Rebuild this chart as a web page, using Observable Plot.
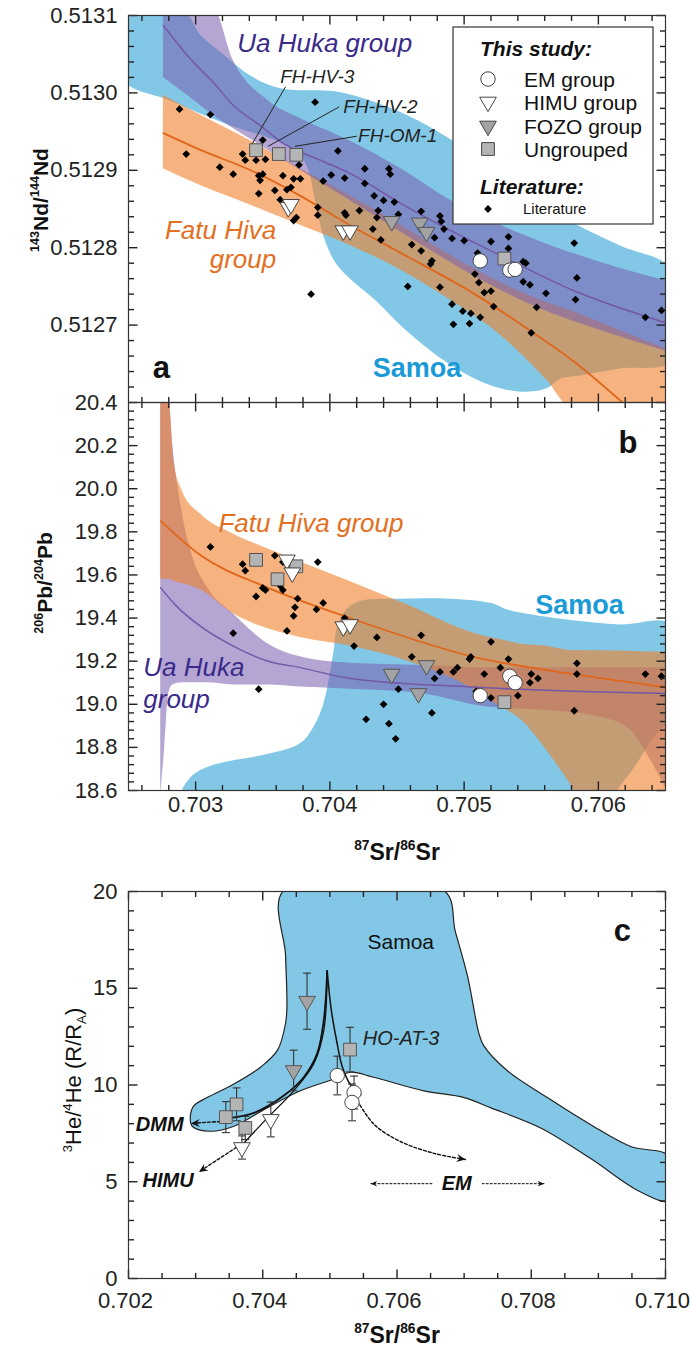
<!DOCTYPE html>
<html><head><meta charset="utf-8">
<script src="https://cdn.jsdelivr.net/npm/d3@7"></script>
<script src="https://cdn.jsdelivr.net/npm/@observablehq/plot@0.6"></script>
<style>
body{margin:0;background:#fff;}
#wrap{position:relative;width:690px;height:1352px;overflow:hidden;}
#wrap svg{position:absolute;left:0;overflow:visible;}
</style></head><body><div id="wrap"></div>
<script>
// ---------------- DATA ----------------
// Panel a: literature 87Sr/86Sr vs 143Nd/144Nd
const litA_sr = [0.70288,0.70311,0.70293,0.70318,0.70328,0.70335,0.70337,0.70345,0.70352,0.70350,0.70347,0.70350,0.70348,0.70347,0.70359,0.70365,0.70368,0.70371,0.70363,0.70373,0.70378,0.70377,0.70373,0.70375,0.70391,0.70391,0.70386,0.70389,0.70395,0.70401,0.70406,0.70411,0.70411,0.70426,0.70444,0.70445,0.70426,0.70433,0.70440,0.70448,0.70436,0.70435,0.70451,0.70422,0.70412,0.70432,0.70438,0.70468,0.70482,0.70483,0.70485,0.70478,0.70461,0.70468,0.70476,0.70475,0.70491,0.70500,0.70520,0.70533,0.70533,0.70510,0.70508,0.70511,0.70515,0.70520,0.70522,0.70482,0.70458,0.70491,0.70499,0.70505,0.70512,0.70504,0.70492,0.70544,0.70546,0.70544,0.70549,0.70561,0.70554,0.70550,0.70582,0.70584,0.70583,0.70635,0.70647];
const litA_nd = [0.512979,0.512972,0.512921,0.512904,0.512895,0.512921,0.512913,0.512913,0.512914,0.512939,0.512893,0.512895,0.512887,0.512870,0.512874,0.512893,0.512875,0.512878,0.512862,0.512889,0.512889,0.512907,0.512835,0.512839,0.512852,0.512842,0.512740,0.512988,0.512886,0.512894,0.512925,0.512890,0.512845,0.512902,0.512902,0.512895,0.512883,0.512867,0.512861,0.512859,0.512848,0.512839,0.512843,0.512848,0.512842,0.512824,0.512810,0.512847,0.512841,0.512834,0.512824,0.512813,0.512804,0.512796,0.512783,0.512779,0.512812,0.512809,0.512808,0.512814,0.512799,0.512793,0.512766,0.512755,0.512742,0.512744,0.512724,0.512749,0.512750,0.512727,0.512718,0.512715,0.512710,0.512702,0.512701,0.512782,0.512780,0.512756,0.512752,0.512741,0.512723,0.512690,0.512806,0.512761,0.512733,0.512710,0.512719];
// Panel a: this study
const emA_sr = [0.70512,0.70534,0.70538], emA_nd = [0.512783,0.512771,0.512772];
const himuA_sr = [0.70369,0.70371,0.70410,0.70415], himuA_nd = [0.512852,0.512856,0.512822,0.512822];
const fozoA_sr = [0.70446,0.70467,0.70472], fozoA_nd = [0.512834,0.512832,0.512820];
const ungA_sr = [0.70345,0.70362,0.70375,0.70530], ungA_nd = [0.512926,0.512921,0.512920,0.512786];
// Panel a: fields
const samoaA_sr = [0.70245,0.70289,0.70304,0.70322,0.70341,0.70363,0.70408,0.70453,0.70492,0.70527,0.70564,0.70581,0.70616,0.70655,0.70655,0.70616,0.70587,0.70572,0.70561,0.70542,0.70520,0.70497,0.70475,0.70453,0.70434,0.70415,0.70404,0.70395,0.70389,0.70384,0.70378,0.70363,0.70326,0.70281,0.70245];
const samoaA_nd = [0.51311,0.51311,0.513074,0.513048,0.513022,0.513006,0.513001,0.512975,0.512938,0.512897,0.512855,0.512833,0.512803,0.512771,0.512654,0.512644,0.512635,0.512631,0.512618,0.512614,0.512622,0.512641,0.512667,0.512699,0.512732,0.512760,0.512781,0.512816,0.512861,0.512900,0.512919,0.512936,0.512958,0.512990,0.513018];
const uaA_sr = [0.70276,0.70296,0.70313,0.70328,0.70354,0.70378,0.70415,0.70453,0.70490,0.70527,0.70564,0.70602,0.70655];
const uaA_hi = [0.51311,0.51311,0.51311,0.513042,0.512990,0.512967,0.512938,0.512902,0.512861,0.512829,0.512803,0.512781,0.512755];
const uaA_lo = [0.513020,0.512994,0.512971,0.512954,0.512926,0.512900,0.512861,0.512820,0.512781,0.512745,0.512716,0.512693,0.512664];
const uaLineA_sr = [0.70276,0.70296,0.70315,0.70328,0.70348,0.70365,0.70393,0.70415,0.70453,0.70490,0.70527,0.70581,0.70650];
const uaLineA_nd = [0.513087,0.513044,0.513010,0.512984,0.512958,0.512935,0.512913,0.512896,0.512857,0.512822,0.512790,0.512745,0.512703];
const fhA_sr = [0.70276,0.70304,0.70341,0.70378,0.70415,0.70453,0.70490,0.70527,0.70562,0.70579,0.70616,0.70655];
const fhA_hi = [0.512997,0.512971,0.512938,0.512902,0.512867,0.512829,0.512790,0.512755,0.512729,0.512719,0.512693,0.512666];
const fhA_lo = [0.512902,0.512880,0.512855,0.512829,0.512803,0.512771,0.512732,0.512687,0.512628,0.512595,0.512595,0.512595];
const fhLineA_sr = [0.70276,0.70304,0.70341,0.70378,0.70415,0.70453,0.70507,0.70549,0.70581,0.70618];
const fhLineA_nd = [0.512948,0.512926,0.512900,0.512867,0.512829,0.512793,0.512741,0.512693,0.512654,0.512600];

// Panel b: literature 87Sr/86Sr vs 206Pb/204Pb
const litB_sr = [0.70311,0.70335,0.70337,0.70359,0.70365,0.70391,0.70350,0.70352,0.70345,0.70363,0.70365,0.70376,0.70374,0.70373,0.70368,0.70390,0.70395,0.70328,0.70347,0.70411,0.70418,0.70435,0.70468,0.70461,0.70451,0.70440,0.70427,0.70444,0.70449,0.70476,0.70478,0.70482,0.70492,0.70495,0.70505,0.70504,0.70520,0.70515,0.70527,0.70533,0.70509,0.70520,0.70540,0.70550,0.70549,0.70555,0.70584,0.70584,0.70582,0.70635,0.70647];
const litB_pb = [19.73,19.65,19.62,19.69,19.66,19.66,19.54,19.53,19.50,19.55,19.53,19.49,19.45,19.41,19.34,19.44,19.47,19.33,19.07,19.40,19.27,19.31,19.32,19.22,19.07,19.00,18.93,18.91,18.84,18.96,19.12,19.15,19.15,19.17,19.22,19.21,19.29,19.14,19.17,19.21,19.06,19.03,19.04,19.14,19.10,19.12,19.19,19.14,18.97,19.14,19.13];
const emB_sr = [0.70512,0.70534,0.70538], emB_pb = [19.04,19.13,19.10];
const himuB_sr = [0.70368,0.70372,0.70410,0.70415], himuB_pb = [19.67,19.61,19.36,19.37];
const fozoB_sr = [0.70446,0.70472,0.70466], fozoB_pb = [19.14,19.18,19.05];
const ungB_sr = [0.70345,0.70361,0.70375,0.70530], ungB_pb = [19.67,19.58,19.64,19.01];
const samoaB_sr = [0.70405,0.70412,0.70423,0.70453,0.70490,0.70520,0.70532,0.70547,0.70581,0.70616,0.70655,0.70655,0.70639,0.70628,0.70616,0.70610,0.70290,0.70296,0.70309,0.70328,0.70354,0.70378,0.70389,0.70395,0.70399,0.70403];
const samoaB_pb = [19.35,19.44,19.48,19.49,19.49,19.47,19.44,19.42,19.39,19.37,19.37,18.96,18.83,18.72,18.62,18.57,18.57,18.66,18.71,18.74,18.77,18.82,18.91,19.00,19.11,19.26];
const uaB_sr = [0.70274,0.70277,0.70280,0.70283,0.70290,0.70298,0.70309,0.70328,0.70354,0.70378,0.70415,0.70468,0.70514,0.70564,0.70602,0.70624,0.70639,0.70655];
const uaB_lo = [18.58,18.80,19.05,19.09,19.10,19.10,19.10,19.09,19.09,19.08,19.07,19.05,18.99,18.97,18.94,18.88,18.74,18.55];
const uaB_hi = [20.42,20.42,20.42,20.20,19.89,19.68,19.54,19.42,19.28,19.22,19.19,19.18,19.17,19.17,19.17,19.17,19.17,19.17];
const uaLineB_sr = [0.70274,0.70285,0.70304,0.70328,0.70354,0.70378,0.70415,0.70507,0.70581,0.70650];
const uaLineB_pb = [19.54,19.46,19.36,19.27,19.20,19.17,19.12,19.08,19.06,19.05];
const fhB_sr = [0.70274,0.70280,0.70284,0.70290,0.70304,0.70328,0.70354,0.70378,0.70415,0.70458,0.70507,0.70527,0.70542,0.70561,0.70579,0.70584,0.70655];
const fhB_lo = [19.58,19.58,19.57,19.56,19.53,19.42,19.35,19.31,19.27,19.20,19.07,18.99,18.93,18.79,18.63,18.58,18.58];
const fhB_hi = [20.42,20.42,20.12,19.99,19.88,19.79,19.72,19.66,19.57,19.46,19.33,19.30,19.28,19.27,19.25,19.25,19.24];
const fhLineB_sr = [0.70274,0.70304,0.70354,0.70415,0.70507,0.70581,0.70650];
const fhLineB_pb = [19.85,19.69,19.54,19.40,19.22,19.14,19.08];

// Panel c: 87Sr/86Sr vs 3He/4He (R/RA), with 1-sigma errors
const emC_sr = [0.70511,0.70536,0.70533], emC_he = [10.49,9.61,9.10], emC_err = [1.0,0.85,0.95];
const himuC_sr = [0.70412,0.70369], himuC_he = [8.22,6.77], himuC_err = [0.9,0.6];
const fozoC_sr = [0.70466,0.70446], fozoC_he = [14.33,10.75], fozoC_err = [1.45,1.05];
const ungC_sr = [0.70345,0.70361,0.70374,0.70530], ungC_he = [8.34,9.00,7.78,11.83], ungC_err = [0.8,0.85,0.6,1.15];
const samoaC_sr = [0.70431,0.70434,0.70436,0.70434,0.70422,0.70397,0.70357,0.70317,0.70297,0.70292,0.70295,0.70322,0.70357,0.70407,0.70456,0.70506,0.70531,0.70565,0.70640,0.70700,0.70739,0.70814,0.70888,0.70963,0.71005,0.71005,0.70948,0.70888,0.70824,0.70764,0.70729,0.70722,0.70705,0.70687,0.70670];
const samoaC_he = [20.05,16.69,14.07,13.19,11.80,10.93,10.05,9.35,8.91,8.30,7.87,7.61,7.87,8.83,9.70,10.31,10.66,10.40,9.70,9.35,8.83,7.78,6.21,4.47,4.03,6.31,6.82,7.96,9.35,10.75,12.05,12.67,15.64,17.91,20.05];
const mixA_sr = [0.70352,0.70387,0.70431,0.70461,0.70481,0.70491,0.70496], mixA_he = [8.30,8.56,9.44,10.40,11.62,13.37,15.90];
const mixB_sr = [0.70496,0.70502,0.70510,0.70518,0.70531,0.70546], mixB_he = [15.90,13.90,12.30,11.00,10.00,9.50];
const mixC_sr = [0.70367,0.70407,0.70446,0.70476,0.70491,0.70496], mixC_he = [6.82,8.30,9.70,11.10,12.84,15.90];
const dmmArr_sr = [0.70352,0.70320,0.70293], dmmArr_he = [8.13,8.08,8.01];
const himuArr_sr = [0.70367,0.70305], himuArr_he = [6.92,5.51];
const emArr_sr = [0.70541,0.70566,0.70605,0.70655,0.70702], emArr_he = [9.18,7.96,7.08,6.47,6.15];
const emL_sr = [0.70652,0.70561], emR_sr = [0.70727,0.70819], emLR_he = [4.9,4.9];
const heads_sr = [0.70293,0.70305,0.70702,0.70561,0.70819], heads_he = [8.01,5.51,6.15,4.9,4.9];
const heads_angle = [177,147,10,180,0], heads_r = [5,5,5,3.6,3.6];

// tick values
const xTicksAB = [0.703,0.704,0.705,0.706];
const ndTicks = [0.5127,0.5128,0.5129,0.5130,0.5131];
const pbTicks = [18.6,18.8,19.0,19.2,19.4,19.6,19.8,20.0,20.2,20.4];
const xTicksC = [0.702,0.704,0.706,0.708,0.710];
const heTicks = [0,5,10,15,20];
const xDomAB = [0.7025, 0.7065], ndDom = [0.5126, 0.5131], pbDom = [18.6, 20.4], xDomC = [0.702, 0.710], heDom = [0, 20];

// ---------------- HELPERS ----------------
const FONT = '"Liberation Sans", Arial, Helvetica, sans-serif';
const BLUE = "#82c8e6", PURPLE = "#7a5eae", ORANGE = "#f0802a";
const LINE_P = "#7557a8", LINE_O = "#e0661a";
const pts = (xs, ys) => xs.map((x, i) => ({x, y: ys[i]}));
const band = (xs, lo, hi) => xs.map((x, i) => ({x, lo: lo[i], hi: hi[i]}));
const minor = (a, b, step, majors) => d3.range(Math.round((b - a) / step) + 1).map(i => +(a + i * step).toFixed(8))
  .filter(v => !majors.some(m => Math.abs(m - v) < step / 10));

const triDown = {draw(ctx, size) { const s = Math.sqrt(size * 4 / Math.sqrt(3)); const h = s * Math.sqrt(3) / 2;
  ctx.moveTo(-s / 2, -h / 3); ctx.lineTo(s / 2, -h / 3); ctx.lineTo(0, 2 * h / 3); ctx.closePath(); }};
const capSym = {draw(ctx, size) { const w = Math.sqrt(size) / 2; ctx.moveTo(-w, 0); ctx.lineTo(w, 0); }};
const headSym = {draw(ctx, size) { const l = Math.sqrt(size); ctx.moveTo(0, 0); ctx.lineTo(-l, -l * 0.45);
  ctx.lineTo(-l * 0.65, 0); ctx.lineTo(-l, l * 0.45); ctx.closePath(); }};
// tick glyphs: a short stroke starting at the anchor point, pointing into the frame
const tickDown = {draw(ctx, size) { const l = Math.sqrt(size); ctx.moveTo(0, 0); ctx.lineTo(0, l); }};
const tickUp = {draw(ctx, size) { const l = Math.sqrt(size); ctx.moveTo(0, 0); ctx.lineTo(0, -l); }};
const tickRight = {draw(ctx, size) { const l = Math.sqrt(size); ctx.moveTo(0, 0); ctx.lineTo(l, 0); }};
const tickLeft = {draw(ctx, size) { const l = Math.sqrt(size); ctx.moveTo(0, 0); ctx.lineTo(-l, 0); }};

const R = {circle: 7.2, tri: 6.2, square: 7.2, diamond: 3.5};
function studyMarks(em, himu, fozo, ung) {
  return [
    Plot.dot(ung, {x: "x", y: "y", symbol: "square", r: R.square, fill: "#b4b4b4", stroke: "#555", strokeWidth: 1}),
    Plot.dot(fozo, {x: "x", y: "y", symbol: triDown, r: R.tri, fill: "#a3a3a3", stroke: "#555", strokeWidth: 1}),
    Plot.dot(himu, {x: "x", y: "y", symbol: triDown, r: R.tri, fill: "#fff", stroke: "#444", strokeWidth: 1}),
    Plot.dot(em, {x: "x", y: "y", symbol: "circle", r: R.circle, fill: "#fff", stroke: "#444", strokeWidth: 1})
  ];
}
// frame, inward ticks on all four sides (drawn as stroked glyphs at the frame edges), tick labels
function frameAxes({xDom, yDom, xMaj, xMin, yMaj, yMin, xLab, yLab, xFmt, yFmt, xPad, yPad, xDx = 0}) {
  const st = {fill: "none", stroke: "#222", strokeWidth: 1.4};
  const rOf = len => len / Math.sqrt(Math.PI);   // dot size = PI r^2 -> glyph length = len
  const m = [];
  for (const [vals, len] of [[xMaj, 9], [xMin, 5.5]]) {
    m.push(Plot.dot(vals.map(v => ({x: v, y: yDom[1]})), {x: "x", y: "y", symbol: tickDown, r: rOf(len), ...st}));
    m.push(Plot.dot(vals.map(v => ({x: v, y: yDom[0]})), {x: "x", y: "y", symbol: tickUp, r: rOf(len), ...st}));
  }
  for (const [vals, len] of [[yMaj, 9], [yMin, 5.5]]) {
    m.push(Plot.dot(vals.map(v => ({x: xDom[0], y: v})), {x: "x", y: "y", symbol: tickRight, r: rOf(len), ...st}));
    m.push(Plot.dot(vals.map(v => ({x: xDom[1], y: v})), {x: "x", y: "y", symbol: tickLeft, r: rOf(len), ...st}));
  }
  if (xLab) m.push(Plot.axisX(xLab, {anchor: "bottom", tickSize: 0, tickPadding: xPad, tickFormat: xFmt, label: null, fontSize: 22, dx: xDx}));
  if (yLab) m.push(Plot.axisY(yLab, {anchor: "left", tickSize: 0, tickPadding: yPad, tickFormat: yFmt, label: null, fontSize: 22}));
  m.push(Plot.frame({stroke: "#333", strokeWidth: 1.2}));
  return m;
}
function txt(data, o) {
  return Plot.text(data, {x: "x", y: "y", text: "t", lineAnchor: "middle", textAnchor: "start", fontFamily: FONT, ...o});
}
function svgText(svg, x, y, parts, {size = 20, weight = "normal", style = "normal", anchor = "start", rotate = 0, fill = "#111"} = {}) {
  const t = d3.select(svg).append("text")
    .attr("transform", `translate(${x},${y})` + (rotate ? ` rotate(${rotate})` : ""))
    .attr("text-anchor", anchor).attr("font-family", FONT).attr("font-size", size)
    .attr("font-weight", weight).attr("font-style", style).attr("fill", fill);
  let shift = 0;
  for (const p of parts) {
    const s = typeof p === "string" ? {t: p} : p;
    const target = s.sup ? -0.42 * size : s.sub ? 0.22 * size : 0;
    const span = t.append("tspan").text(s.t).attr("dy", target - shift);
    if (s.sup || s.sub) span.attr("font-size", size * 0.6);
    shift = target;
  }
}
const baseStyle = {fontFamily: FONT, fontSize: "22px", color: "#222", background: "transparent", overflow: "visible"};

// ---------------- PANEL A ----------------
const plotA = Plot.plot({
  width: 690, height: 402, marginLeft: 128, marginRight: 25, marginTop: 15, marginBottom: 0,
  x: {domain: xDomAB, axis: null}, y: {domain: ndDom, axis: null}, style: baseStyle,
  marks: [
    Plot.line(pts(samoaA_sr, samoaA_nd), {x: "x", y: "y", fill: BLUE, stroke: null, curve: "catmull-rom-closed", clip: true}),
    Plot.areaY(band(fhA_sr, fhA_lo, fhA_hi), {x: "x", y1: "lo", y2: "hi", fill: ORANGE, fillOpacity: 0.6, curve: "monotone-x", clip: true}),
    Plot.areaY(band(uaA_sr, uaA_lo, uaA_hi), {x: "x", y1: "lo", y2: "hi", fill: PURPLE, fillOpacity: 0.56, curve: "monotone-x", clip: true}),
    Plot.line(pts(fhLineA_sr, fhLineA_nd), {x: "x", y: "y", stroke: LINE_O, strokeWidth: 1.8, curve: "monotone-x", clip: true}),
    Plot.line(pts(uaLineA_sr, uaLineA_nd), {x: "x", y: "y", stroke: LINE_P, strokeWidth: 1.5, curve: "monotone-x", clip: true}),
    Plot.link([{x1: 0.70341, y1: 0.512931, x2: 0.70367, y2: 0.513008}, {x1: 0.70354, y1: 0.512931, x2: 0.70407, y2: 0.512982}, {x1: 0.70374, y1: 0.512931, x2: 0.70420, y2: 0.512944}],
      {x1: "x1", y1: "y1", x2: "x2", y2: "y2", stroke: "#222", strokeWidth: 1}),
    Plot.dot(pts(litA_sr, litA_nd), {x: "x", y: "y", symbol: "diamond2", r: R.diamond, fill: "#000"}),
    ...studyMarks(pts(emA_sr, emA_nd), pts(himuA_sr, himuA_nd), pts(fozoA_sr, fozoA_nd), pts(ungA_sr, ungA_nd)),
    txt([{x: 0.70331, y: 0.513064, t: "Ua Huka group"}], {fill: "#3a2a8a", fontStyle: "italic", fontSize: 26}),
    txt([{x: 0.70360, y: 0.512822, t: "Fatu Hiva"}, {x: 0.70360, y: 0.512784, t: "group"}], {fill: "#e2701f", fontStyle: "italic", fontSize: 26, textAnchor: "end"}),
    txt([{x: 0.70432, y: 0.512644, t: "Samoa"}], {fill: "#1a9ad6", fontWeight: "bold", fontSize: 27}),
    txt([{x: 0.70268, y: 0.512645, t: "a"}], {fill: "#111", fontWeight: "bold", fontSize: 31}),
    txt([{x: 0.70363, y: 0.513021, t: "FH-HV-3"}, {x: 0.70410, y: 0.512982, t: "FH-HV-2"}, {x: 0.70421, y: 0.512944, t: "FH-OM-1"}], {fill: "#222", fontStyle: "italic", fontSize: 19}),
    ...frameAxes({xDom: xDomAB, yDom: ndDom, xMaj: xTicksAB, xMin: minor(0.7026, 0.7064, 0.0002, xTicksAB), yMaj: ndTicks, yMin: minor(0.51262, 0.51308, 0.00002, ndTicks),
      yLab: ndTicks, yFmt: d3.format(".4f"), yPad: 11})
  ]
});

// ---------------- PANEL B ----------------
const plotB = Plot.plot({
  width: 690, height: 460, marginLeft: 128, marginRight: 25, marginTop: 0, marginBottom: 72,
  x: {domain: xDomAB}, y: {domain: pbDom}, style: baseStyle,
  marks: [
    Plot.line(pts(samoaB_sr, samoaB_pb), {x: "x", y: "y", fill: BLUE, stroke: null, curve: "catmull-rom-closed", clip: true}),
    Plot.areaY(band(uaB_sr, uaB_lo, uaB_hi), {x: "x", y1: "lo", y2: "hi", fill: PURPLE, fillOpacity: 0.56, curve: "monotone-x", clip: true}),
    Plot.areaY(band(fhB_sr, fhB_lo, fhB_hi), {x: "x", y1: "lo", y2: "hi", fill: ORANGE, fillOpacity: 0.6, curve: "monotone-x", clip: true}),
    Plot.line(pts(uaLineB_sr, uaLineB_pb), {x: "x", y: "y", stroke: LINE_P, strokeWidth: 1.5, curve: "monotone-x", clip: true}),
    Plot.line(pts(fhLineB_sr, fhLineB_pb), {x: "x", y: "y", stroke: LINE_O, strokeWidth: 1.8, curve: "monotone-x", clip: true}),
    Plot.dot(pts(litB_sr, litB_pb), {x: "x", y: "y", symbol: "diamond2", r: R.diamond, fill: "#000"}),
    ...studyMarks(pts(emB_sr, emB_pb), pts(himuB_sr, himuB_pb), pts(fozoB_sr, fozoB_pb), pts(ungB_sr, ungB_pb)),
    txt([{x: 0.70317, y: 19.84, t: "Fatu Hiva group"}], {fill: "#e2701f", fontStyle: "italic", fontSize: 26}),
    txt([{x: 0.70261, y: 19.17, t: "Ua Huka"}, {x: 0.70261, y: 19.02, t: "group"}], {fill: "#3a2a8a", fontStyle: "italic", fontSize: 26}),
    txt([{x: 0.70553, y: 19.46, t: "Samoa"}], {fill: "#1a9ad6", fontWeight: "bold", fontSize: 27}),
    txt([{x: 0.70615, y: 20.21, t: "b"}], {fill: "#111", fontWeight: "bold", fontSize: 31}),
    ...frameAxes({xDom: xDomAB, yDom: pbDom, xMaj: xTicksAB, xMin: minor(0.7026, 0.7064, 0.0002, xTicksAB), yMaj: pbTicks, yMin: minor(18.64, 20.36, 0.04, pbTicks),
      xLab: xTicksAB, xFmt: d3.format(".3f"), xPad: 6, yLab: pbTicks, yFmt: d3.format(".1f"), yPad: 11})
  ]
});

// ---------------- PANEL C ----------------
const errRows = (xs, ys, es) => xs.map((x, i) => ({x, lo: ys[i] - es[i], hi: ys[i] + es[i]}));
const allErr = [...errRows(emC_sr, emC_he, emC_err), ...errRows(himuC_sr, himuC_he, himuC_err), ...errRows(fozoC_sr, fozoC_he, fozoC_err), ...errRows(ungC_sr, ungC_he, ungC_err)];
const caps = allErr.flatMap(d => [{x: d.x, y: d.lo}, {x: d.x, y: d.hi}]);
const heads = heads_sr.map((x, i) => ({x, y: heads_he[i], a: heads_angle[i], r: heads_r[i]}));
const plotC = Plot.plot({
  width: 690, height: 490, marginLeft: 128, marginRight: 25, marginTop: 29, marginBottom: 74,
  x: {domain: xDomC}, y: {domain: heDom}, r: {type: "identity"}, style: baseStyle,
  marks: [
    Plot.line(pts(samoaC_sr, samoaC_he), {x: "x", y: "y", fill: BLUE, stroke: "#222", strokeWidth: 1.2, curve: "catmull-rom-closed", clip: true}),
    Plot.line(pts(mixA_sr, mixA_he), {x: "x", y: "y", stroke: "#111", strokeWidth: 1.8, curve: "catmull-rom"}),
    Plot.line(pts(mixC_sr, mixC_he), {x: "x", y: "y", stroke: "#111", strokeWidth: 1.3, curve: "catmull-rom"}),
    Plot.line(pts(mixB_sr, mixB_he), {x: "x", y: "y", stroke: "#111", strokeWidth: 1.5, curve: "catmull-rom"}),
    Plot.line(pts(dmmArr_sr, dmmArr_he), {x: "x", y: "y", stroke: "#111", strokeWidth: 1.4, strokeDasharray: "3,2", curve: "catmull-rom"}),
    Plot.line(pts(himuArr_sr, himuArr_he), {x: "x", y: "y", stroke: "#111", strokeWidth: 1.4, strokeDasharray: "3,2"}),
    Plot.line(pts(emArr_sr, emArr_he), {x: "x", y: "y", stroke: "#111", strokeWidth: 1.4, strokeDasharray: "3,2", curve: "catmull-rom"}),
    Plot.line(pts(emL_sr, emLR_he), {x: "x", y: "y", stroke: "#111", strokeWidth: 1, strokeDasharray: "2,2"}),
    Plot.line(pts(emR_sr, emLR_he), {x: "x", y: "y", stroke: "#111", strokeWidth: 1, strokeDasharray: "2,2"}),
    Plot.dot(heads, {x: "x", y: "y", r: "r", rotate: "a", symbol: headSym, fill: "#111", stroke: null}),
    Plot.ruleX(allErr, {x: "x", y1: "lo", y2: "hi", stroke: "#333", strokeWidth: 1.1}),
    Plot.dot(caps, {x: "x", y: "y", symbol: capSym, r: 4.5, fill: "none", stroke: "#333", strokeWidth: 1.1}),
    ...studyMarks(pts(emC_sr, emC_he), pts(himuC_sr, himuC_he), pts(fozoC_sr, fozoC_he), pts(ungC_sr, ungC_he)),
    txt([{x: 0.70556, y: 17.36, t: "Samoa"}], {fill: "#111", fontSize: 21}),
    txt([{x: 0.70923, y: 17.98, t: "c"}], {fill: "#111", fontWeight: "bold", fontSize: 31}),
    txt([{x: 0.70549, y: 12.40, t: "HO-AT-3"}], {fill: "#222", fontStyle: "italic", fontSize: 20}),
    txt([{x: 0.70282, y: 7.96, t: "DMM"}, {x: 0.70297, y: 5.06, t: "HIMU"}], {fill: "#111", fontStyle: "italic", fontWeight: "bold", fontSize: 20, textAnchor: "end"}),
    txt([{x: 0.70689, y: 4.91, t: "EM"}], {fill: "#111", fontStyle: "italic", fontWeight: "bold", fontSize: 20, textAnchor: "middle"}),
    ...frameAxes({xDom: xDomC, yDom: heDom, xMaj: xTicksC, xMin: minor(0.7025, 0.7095, 0.0005, xTicksC), yMaj: heTicks, yMin: minor(1, 19, 1, heTicks),
      xLab: xTicksC, xFmt: d3.format(".3f"), xPad: 14, xDx: -3, yLab: heTicks, yFmt: d3.format("d"), yPad: 11})
  ]
});

// ---------------- ASSEMBLE ----------------
const wrap = document.getElementById("wrap");
[[plotA, 0], [plotB, 402], [plotC, 862]].forEach(([p, top]) => { p.style.top = top + "px"; wrap.appendChild(p); });

svgText(plotA, 48, 200, [{t: "143", sup: 1}, "Nd/", {t: "144", sup: 1}, "Nd"], {size: 21, weight: "bold", anchor: "middle", rotate: -90});
svgText(plotB, 52, 181, [{t: "206", sup: 1}, "Pb/", {t: "204", sup: 1}, "Pb"], {size: 21, weight: "bold", anchor: "middle", rotate: -90});
svgText(plotB, 397, 458, [{t: "87", sup: 1}, "Sr/", {t: "86", sup: 1}, "Sr"], {size: 23, weight: "bold", anchor: "middle"});
svgText(plotC, 81, 218, [{t: "3", sup: 1}, "He/", {t: "4", sup: 1}, "He (R/R", {t: "A", sub: 1}, ")"], {size: 22, anchor: "middle", rotate: -90});
svgText(plotC, 397, 481, [{t: "87", sup: 1}, "Sr/", {t: "86", sup: 1}, "Sr"], {size: 23, weight: "bold", anchor: "middle"});

// Legend (panel a)
const lg = d3.select(plotA).append("g").attr("text-anchor", "start");
lg.append("rect").attr("x", 453).attr("y", 27).attr("width", 200).attr("height", 197).attr("fill", "#fff").attr("stroke", "#333").attr("stroke-width", 1.2);
const lgText = (x, y, s, o) => lg.append("text").attr("x", x).attr("y", y).attr("text-anchor", "start").attr("font-family", FONT).attr("font-size", o.size)
  .attr("font-weight", o.weight || "normal").attr("font-style", o.style || "normal").attr("fill", "#111").text(s);
lgText(480, 56, "This study:", {size: 21, weight: "bold", style: "italic"});
const items = [
  {sym: d3.symbolCircle, r: R.circle, fill: "#fff", label: "EM group", y: 79},
  {sym: triDown, r: R.tri, fill: "#fff", label: "HIMU group", y: 102},
  {sym: triDown, r: R.tri, fill: "#a3a3a3", label: "FOZO group", y: 126},
  {sym: d3.symbolSquare, r: R.square, fill: "#b4b4b4", label: "Ungrouped", y: 149}
];
for (const it of items) {
  lg.append("path").attr("d", d3.symbol(it.sym, Math.PI * it.r * it.r)()).attr("transform", `translate(488,${it.y})`)
    .attr("fill", it.fill).attr("stroke", "#444").attr("stroke-width", 1);
  lgText(524, it.y + 7.5, it.label, {size: 21});
}
lgText(480, 194, "Literature:", {size: 21, weight: "bold", style: "italic"});
lg.append("path").attr("d", d3.symbol(d3.symbolDiamond2, Math.PI * R.diamond * R.diamond)()).attr("transform", "translate(488,209)").attr("fill", "#000");
lgText(523, 214, "Literature", {size: 15});
</script></body></html>
